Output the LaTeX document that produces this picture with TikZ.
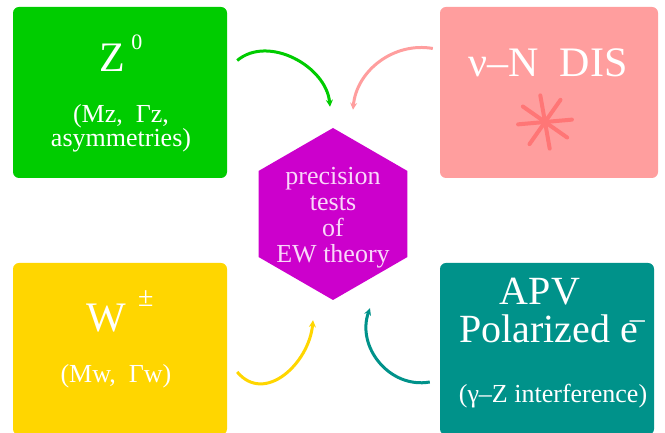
\documentclass[tikz,border=0pt]{standalone}
\usepackage{fontspec}
\setmainfont{Liberation Serif}
\usepackage{xcolor}
\usepackage{tikz}
\usetikzlibrary{arrows.meta,positioning,shapes.geometric}

\definecolor{zgreen}{RGB}{0,204,0}
\definecolor{nupink}{RGB}{255,158,158}
\definecolor{nustar}{RGB}{255,118,118}
\definecolor{wyellow}{RGB}{255,214,0}
\definecolor{apvteal}{RGB}{0,146,138}
\definecolor{ewmagenta}{RGB}{204,0,204}
\definecolor{ewtext}{RGB}{250,215,250}

\newcommand\bigfnt{\fontsize{42}{42}\selectfont}
\newcommand\midfnt{\fontsize{40}{40}\selectfont}
\newcommand\smallfnt{\fontsize{26}{23}\selectfont}
\newcommand\hexfnt{\fontsize{26}{26}\selectfont}

\tikzset{
  panel/.style={rounded corners=6pt, inner sep=0pt, minimum height=171pt},
  boxtext/.style={text=white, anchor=base, inner sep=0pt},
  flow/.style={line width=3pt, -{Stealth[length=7pt,width=7pt]}},
}

\begin{document}
\begin{tikzpicture}[x=1pt, y=1pt]
    \useasboundingbox (0,0) rectangle (665,433);
    \clip (0,0) rectangle (665,433);

    % Four measurement panels
    \node[panel, fill=zgreen, minimum width=214pt] (zbox) at (120,340.5) {};
    \node[panel, fill=nupink, minimum width=218pt] (nubox) at (549,340.5) {};
    \node[panel, fill=wyellow, minimum width=214pt, minimum height=172pt] (wbox) at (120,84) {};
    \node[panel, fill=apvteal, minimum width=214pt, minimum height=172pt] (apvbox) at (547,84) {};

    % Central hexagon
    \node[regular polygon, regular polygon sides=6, shape border rotate=30,
          minimum size=172pt, fill=ewmagenta, inner sep=0pt] (ew) at (333,219) {};
    \node[align=center, text=ewtext, font=\hexfnt, inner sep=0pt] (ewtxt) at (333,215)
      {precision\\tests\\of\\EW theory};

    % Z panel
    \node[boxtext, font=\bigfnt] (ztxt) at (121,361) {Z\kern6pt\raisebox{22pt}[0pt][0pt]{\fontsize{22}{22}\selectfont 0}};
    \node[boxtext, font=\smallfnt, align=center, anchor=north] (zpar) at (121,329) {(Mz,\ \ Γz,\\asymmetries)};

    % nu-N panel
    \node[boxtext, font=\bigfnt] (nutxt) at (548,356) {ν–N\ \ DIS};
    \coordinate (star) at (545,311);
    \foreach \a in {5,55,100,145,185,235,280,325} {\draw[nustar, line width=4pt, line cap=round] (star) -- ++(\a:27);}

    % W panel
    \node[boxtext, font=\bigfnt] (wtxt) at (120,101) {W\kern12pt\raisebox{25pt}[0pt][0pt]{\fontsize{28}{28}\selectfont ±}};
    \node[boxtext, font=\smallfnt] (wpar) at (116,50) {(Mw,\ \ Γw)};

    % APV panel
    \node[boxtext, font=\midfnt] (apvtxt) at (540,128) {APV};
    \node[boxtext, font=\midfnt] (poltxt) at (552,90) {Polarized e\kern-8pt\raisebox{14pt}[0pt][0pt]{\fontsize{30}{30}\selectfont –}};
    \node[boxtext, font=\smallfnt] (gztxt) at (553,30) {(γ–Z interference)};

    % Curved arrows into the hexagon
    \coordinate (zout) at ([shift={(10,32)}]zbox.east);
    \coordinate (zin) at ([shift={(-3,21)}]ew.north);
    \coordinate (nuout) at ([shift={(-7,44)}]nubox.west);
    \coordinate (nuin) at ([shift={(20,18)}]ew.north);
    \coordinate (wout) at ([shift={(10,-23)}]wbox.east);
    \coordinate (win) at ([shift={(-20,-20)}]ew.south);
    \coordinate (apvout) at ([shift={(-10,-33)}]apvbox.west);
    \coordinate (apvin) at ([shift={(37,-8)}]ew.south);

    \draw[flow, zgreen] (zout) to[out=40, in=95] (zin);
    \draw[flow, nupink] (nuout) to[out=170, in=85] (nuin);
    \draw[flow, wyellow] (wout) to[out=-50, in=-95, looseness=1.2] (win);
    \draw[flow, apvteal] (apvout) to[out=190, in=-110, looseness=1.1] (apvin);
\end{tikzpicture}
\end{document}
